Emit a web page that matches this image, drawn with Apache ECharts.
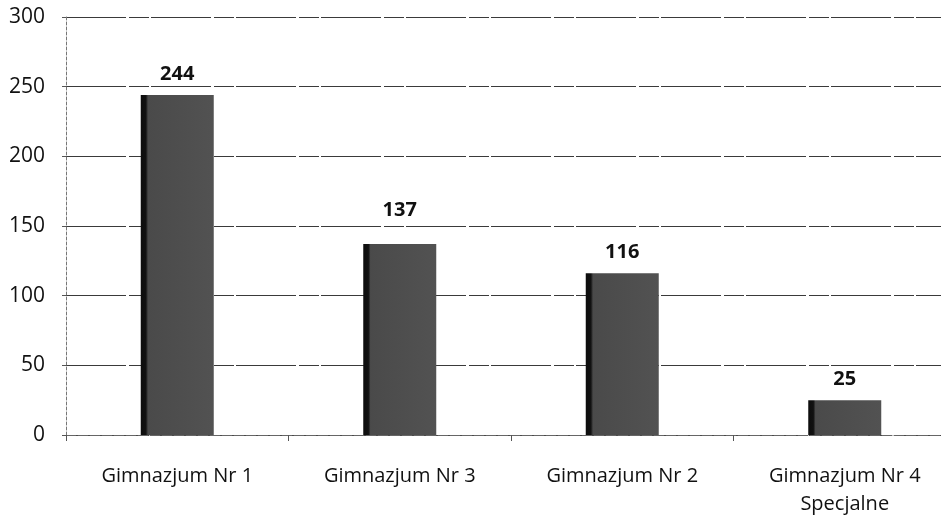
<!DOCTYPE html>
<html>
<head>
<meta charset="utf-8">
<script src="https://cdn.jsdelivr.net/npm/echarts@6/dist/echarts.min.js"></script>
<style>
  html, body { margin: 0; padding: 0; background: #fff; overflow: hidden; }
  #main { width: 956px; height: 517px; }
</style>
</head>
<body>
<div id="main"></div>
<script>
const categories = ['Gimnazjum Nr 1', 'Gimnazjum Nr 3', 'Gimnazjum Nr 2', 'Gimnazjum Nr 4\nSpecjalne'];
const values = [244, 137, 116, 25];
const yTicks = { min: 0, max: 300, interval: 50 };

let myChart = echarts.init(document.getElementById('main'));

const barColor = new echarts.graphic.LinearGradient(0, 0, 1, 0, [
  { offset: 0, color: '#0d0d0d' },
  { offset: 0.07, color: '#111' },
  { offset: 0.1, color: '#4a4a4a' },
  { offset: 1, color: '#525252' }
]);

// the "137" label sits a little higher in the original
const barData = values.map((v, i) => (i === 1 ? { value: v, label: { distance: 24 } } : v));

let option = {
  backgroundColor: '#fff',
  textStyle: { fontFamily: 'Open Sans' },
  grid: { left: 66, right: 0, top: 17, bottom: 82, outerBoundsMode: 'none', containLabel: false },
  xAxis: {
    type: 'category',
    data: categories,
    axisLine: { show: true, lineStyle: { color: '#666', width: 1, type: [10, 2] } },
    axisTick: { show: true, length: 6, lineStyle: { color: '#555' } },
    axisLabel: { color: '#111', fontSize: 20, margin: 27, lineHeight: 28 }
  },
  yAxis: {
    type: 'value',
    min: yTicks.min,
    max: yTicks.max,
    interval: yTicks.interval,
    axisLine: { show: true, lineStyle: { color: '#777', width: 1, type: [3, 2] } },
    axisTick: { show: true, length: 4, lineStyle: { color: '#555' } },
    axisLabel: { color: '#111', fontSize: 21, margin: 21 },
    splitLine: { show: true, lineStyle: { color: '#3a3a3a', width: 1, type: [60, 3, 20, 2] } }
  },
  series: [
    {
      type: 'bar',
      data: barData,
      barWidth: 73,
      itemStyle: { color: barColor },
      label: {
        show: true,
        position: 'top',
        distance: 11,
        color: '#111',
        fontSize: 20,
        fontWeight: 'bold'
      }
    }
  ]
};

myChart.setOption(option);
</script>
</body>
</html>
